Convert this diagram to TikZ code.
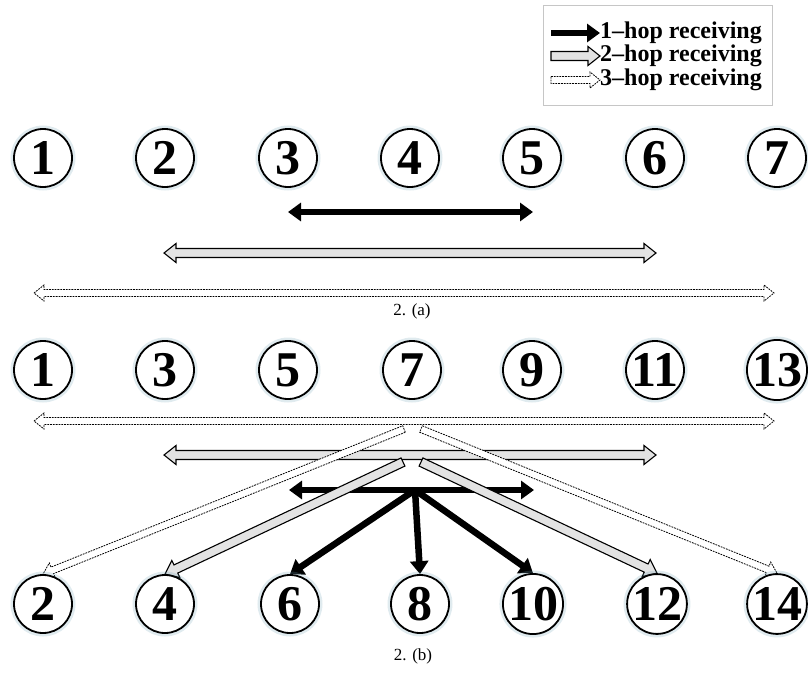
\documentclass[tikz,border=0pt]{standalone}
\usepackage{fontspec}
\setmainfont{Liberation Serif}
\usetikzlibrary{arrows.meta,calc}
\pgfdeclarelayer{nodelayer}
\pgfdeclarelayer{edgelayer}
\pgfsetlayers{edgelayer,nodelayer,main}
% sizes of the hollow block arrows
\tikzset{
  shaft/.store in=\arshaft, head/.store in=\arhead, head len/.store in=\arlen,
  shaft=4pt, head=9pt, head len=11pt,
  block one/.style={to path={
    ($(\tikztostart)!\arshaft!90:(\tikztotarget)$)
    -- ($(\tikztotarget)!\arlen!(\tikztostart)!\arshaft!-90:(\tikztostart)$)
    -- ($(\tikztotarget)!\arlen!(\tikztostart)!\arhead!-90:(\tikztostart)$)
    -- (\tikztotarget)
    -- ($(\tikztotarget)!\arlen!(\tikztostart)!\arhead!90:(\tikztostart)$)
    -- ($(\tikztotarget)!\arlen!(\tikztostart)!\arshaft!90:(\tikztostart)$)
    -- ($(\tikztostart)!\arshaft!-90:(\tikztotarget)$) -- cycle}},
  block two/.style={to path={
    (\tikztostart)
    -- ($(\tikztostart)!\arlen!(\tikztotarget)!\arhead!90:(\tikztotarget)$)
    -- ($(\tikztostart)!\arlen!(\tikztotarget)!\arshaft!90:(\tikztotarget)$)
    -- ($(\tikztotarget)!\arlen!(\tikztostart)!\arshaft!-90:(\tikztostart)$)
    -- ($(\tikztotarget)!\arlen!(\tikztostart)!\arhead!-90:(\tikztostart)$)
    -- (\tikztotarget)
    -- ($(\tikztotarget)!\arlen!(\tikztostart)!\arhead!90:(\tikztostart)$)
    -- ($(\tikztotarget)!\arlen!(\tikztostart)!\arshaft!90:(\tikztostart)$)
    -- ($(\tikztostart)!\arlen!(\tikztotarget)!\arshaft!-90:(\tikztotarget)$)
    -- ($(\tikztostart)!\arlen!(\tikztotarget)!\arhead!-90:(\tikztotarget)$)
    -- cycle}}
}
\tikzstyle{station}=[fill=white, draw=black, shape=circle, line width=1.8pt, minimum size=58pt, inner sep=0pt, font=\fontsize{50}{50}\selectfont\bfseries, preaction={draw=cyan!40!gray, draw opacity=0.22, line width=7pt}]
\tikzstyle{caption}=[inner sep=0pt, font=\fontsize{17}{17}\selectfont]
\tikzstyle{legend text}=[anchor=west, inner sep=0pt, font=\fontsize{24}{24}\selectfont\bfseries]
\tikzstyle{legend frame}=[draw=gray!45, line width=1pt]
\tikzstyle{hop one}=[line width=6.5pt, >={Triangle[length=13pt,width=18pt]}]
\tikzstyle{hop two}=[draw=black, fill=gray!22, line width=1.1pt, line join=miter, shaft=4.5pt, head=9.5pt, head len=12pt]
\tikzstyle{hop three}=[draw=black, fill=white, line width=0.8pt, dash pattern=on 1.8pt off 1pt, shaft=3.5pt, head=8pt, head len=10pt]

\begin{document}
\begin{tikzpicture}[x=1pt, y=-1pt]
    \useasboundingbox (0,0) rectangle (808,672);
    	\begin{pgfonlayer}{nodelayer}
    		% 2.(a): one row of stations
    		\node [style=station] (a1) at (43, 158) {1};
    		\node [style=station] (a2) at (165, 158) {2};
    		\node [style=station] (a3) at (288, 158) {3};
    		\node [style=station] (a4) at (410, 158) {4};
    		\node [style=station] (a5) at (532, 158) {5};
    		\node [style=station] (a6) at (655, 158) {6};
    		\node [style=station] (a7) at (777, 158) {7};
    		\node [style=caption] (capa) at (412, 311) {2. (a)};
    		% 2.(b): odd stations on top, even ones below
    		\node [style=station] (t1) at (43, 370) {1};
    		\node [style=station] (t3) at (165, 370) {3};
    		\node [style=station] (t5) at (288, 370) {5};
    		\node [style=station] (t7) at (412, 370) {7};
    		\node [style=station] (t9) at (532, 370) {9};
    		\node [style=station] (t11) at (655, 370) {11};
    		\node [style=station] (t13) at (777, 370) {13};
    		\node [style=station] (b2) at (43, 604) {2};
    		\node [style=station] (b4) at (165, 604) {4};
    		\node [style=station] (b6) at (290, 604) {6};
    		\node [style=station] (b8) at (420, 604) {8};
    		\node [style=station] (b10) at (533, 604) {10};
    		\node [style=station] (b12) at (657, 604) {12};
    		\node [style=station] (b14) at (777, 604) {14};
    		\node [style=caption] (capb) at (413, 656) {2. (b)};
    		% legend
    		\node [style=legend text] (k1) at (600, 33) {1--hop receiving};
    		\node [style=legend text] (k2) at (600, 56) {2--hop receiving};
    		\node [style=legend text] (k3) at (600, 80) {3--hop receiving};
    	\end{pgfonlayer}
    	\begin{pgfonlayer}{edgelayer}
    		\draw [style=legend frame] (543, 5) rectangle (772, 105);
    		\coordinate (s1) at (551, 33);
    		\coordinate (s2) at (551, 56);
    		\coordinate (s3) at (551, 80);
    		\draw [style=hop one, ->] (s1) to (k1.west);
    		\draw [style=hop two, block one] (s2) to (k2.west);
    		\draw [style=hop three, block one] (s3) to (k3.west);
    		% ranges in 2.(a)
    		\coordinate (oa1) at (288, 212);
    		\coordinate (oa2) at (533, 212);
    		\coordinate (wa1) at (164, 253);
    		\coordinate (wa2) at (656, 253);
    		\coordinate (da1) at (34, 293);
    		\coordinate (da2) at (774, 293);
    		\draw [style=hop one, <->] (oa1) to (oa2);
    		\draw [style=hop two, block two] (wa1) to (wa2);
    		\draw [style=hop three, block two] (da1) to (da2);
    		% ranges in 2.(b)
    		\coordinate (db1) at (34, 421);
    		\coordinate (db2) at (774, 421);
    		\coordinate (wb1) at (164, 455);
    		\coordinate (wb2) at (656, 455);
    		\coordinate (ob1) at (289, 490);
    		\coordinate (ob2) at (534, 490);
    		\draw [style=hop three, block two] (db1) to (db2);
    		\draw [style=hop two, block two] (wb1) to (wb2);
    		\draw [style=hop one, <->] (ob1) to (ob2);
    		% fan-out towards the lower row
    		\coordinate (hub) at (415, 490);
    		\coordinate (wl) at (403, 462);
    		\coordinate (wr) at (421, 462);
    		\coordinate (dl) at (404, 429);
    		\coordinate (dr) at (421, 429);
    		\draw [style=hop three, block one] (dl) to (b2.north);
    		\draw [style=hop three, block one] (dr) to (b14.north);
    		\draw [style=hop two, block one] (wl) to (b4.north);
    		\draw [style=hop two, block one] (wr) to (b12.north);
    		\draw [style=hop one, ->] (hub) to (b6.north);
    		\draw [style=hop one, ->] (hub) to (b8.north);
    		\draw [style=hop one, ->] (hub) to (b10.north);
    	\end{pgfonlayer}
\end{tikzpicture}
\end{document}
